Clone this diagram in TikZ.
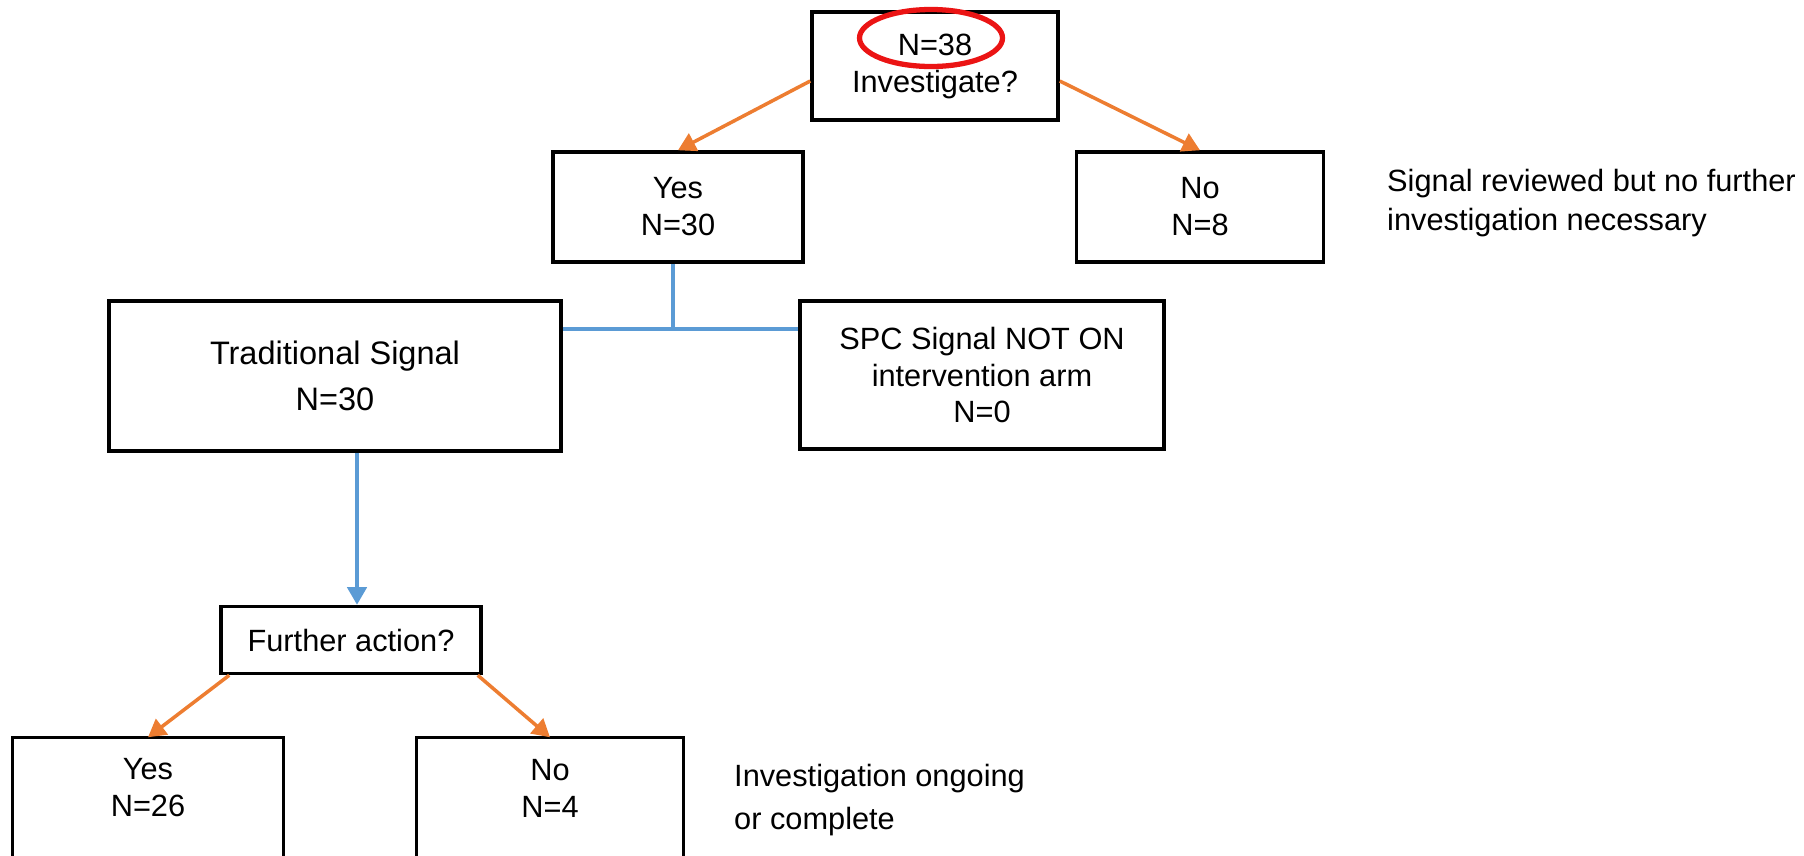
\documentclass[tikz,border=0pt]{standalone}
\usepackage{fontspec}
\setmainfont{Liberation Sans}
\usetikzlibrary{shapes.geometric, arrows.meta, positioning, calc}
\definecolor{flowblue}{RGB}{91, 155, 213}
\definecolor{floworange}{RGB}{237, 125, 49}
\definecolor{ringred}{RGB}{235, 20, 20}

\begin{document}
\begin{tikzpicture}[x=0.2mm, y=-0.2mm,
  box/.style={draw, line width=2pt, align=center, inner sep=0pt, font=\fontsize{17.5}{21}\selectfont},
  notetext/.style={anchor=west, align=left, font=\fontsize{17.5}{22}\selectfont},
  orangearrow/.style={floworange, line width=2pt, -{Triangle[width=11pt, length=10pt]}},
  blueline/.style={flowblue, line width=2pt}]
  \useasboundingbox (0,0) rectangle (1804,855);

  % Top question
  \node[box, minimum width=49.2mm, minimum height=21.6mm] (top) at (935,66) {N=38\\Investigate?};
  \node[draw=ringred, line width=3pt, ellipse, minimum width=28.6mm, minimum height=11.4mm] (ring) at (931,38) {};

  % First split
  \node[box, minimum width=50mm, minimum height=22mm] (yes) at (678,207) {Yes\\N=30};
  \node[box, minimum width=49.4mm, minimum height=22mm] (no) at (1200,207) {No\\N=8};
  \node[notetext] (noteno) at (1381,203) {Signal reviewed but no further\\investigation necessary};

  \draw[orangearrow] ([yshift=-3mm]top.west) -- (yes.north);
  \draw[orangearrow] ([yshift=-3mm]top.east) -- (no.north);

  % Signal types
  \node[box, minimum width=90.4mm, minimum height=30mm, font=\fontsize{18.5}{26}\selectfont] (trad) at (335,376) {Traditional Signal\\N=30};
  \node[box, minimum width=72.8mm, minimum height=29.6mm] (spc) at (982,375) {SPC Signal NOT ON\\intervention arm\\N=0};

  \coordinate (jn) at (673,329);
  \draw[blueline] (yes.south -| jn) -- (jn);
  \draw[blueline] (trad.east |- jn) -- (spc.west |- jn);

  % Further action
  \node[box, minimum width=52mm, minimum height=13.4mm] (act) at (351,640) {Further action?};
  \draw[blueline, -{Triangle[width=11pt, length=10pt]}] ([xshift=1.2mm]act.north |- trad.south) -- ([xshift=1.2mm]act.north);

  % Outcome boxes, cut off by the lower edge
  \node[box, draw=none, minimum width=53.4mm, minimum height=19.6mm] (yesb) at (148,788) {Yes\\N=26};
  \node[box, draw=none, minimum width=52.8mm, minimum height=19.6mm] (nob) at (550,788) {No\\N=4};
  \draw[line width=1.6pt] ([yshift=-8mm]yesb.south west) |- (yesb.north east) -- ([yshift=-8mm]yesb.south east);
  \draw[line width=1.6pt] ([yshift=-8mm]nob.south west) |- (nob.north east) -- ([yshift=-8mm]nob.south east);
  \node[notetext, font=\fontsize{17.5}{25}\selectfont] (noteact) at (728,800) {Investigation ongoing\\or complete};

  \draw[orangearrow] ([xshift=2mm]act.south west) -- (yesb.north);
  \draw[orangearrow] ([xshift=-1mm]act.south east) -- (nob.north);
\end{tikzpicture}
\end{document}
